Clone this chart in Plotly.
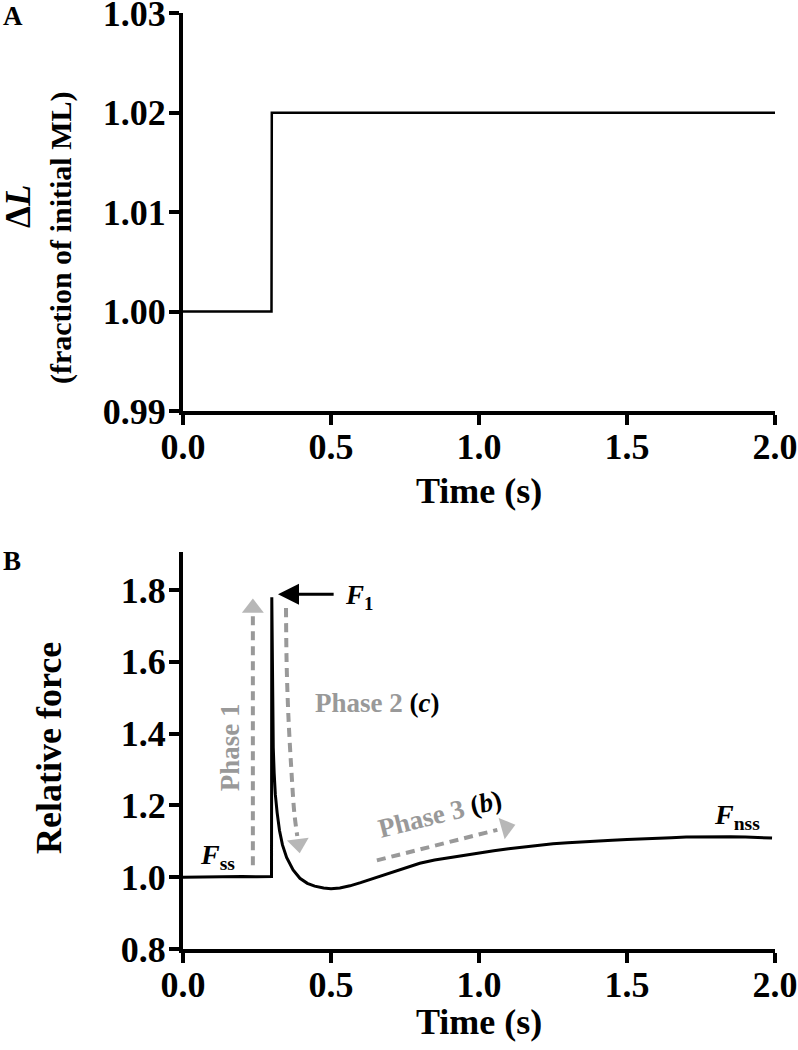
import plotly.graph_objects as go

W, H = 798, 1050
FONT = "Liberation Serif"
GRAY = "#999999"

# ---------------- data ----------------
# Panel A: length step
len_time = [0.0, 0.299, 0.300, 2.0]
len_value = [1.000, 1.000, 1.020, 1.020]

# Panel B: relative force trace
force_time = [0.0, 0.05, 0.10, 0.15, 0.20, 0.25, 0.299, 0.300, 0.302, 0.305,
              0.308, 0.312, 0.318, 0.326, 0.336, 0.350, 0.372, 0.395, 0.420,
              0.445, 0.475, 0.500, 0.530, 0.564, 0.600, 0.640, 0.680, 0.720,
              0.760, 0.800, 0.850, 0.900, 0.950, 1.000, 1.050, 1.100, 1.150,
              1.200, 1.250, 1.300, 1.350, 1.400, 1.450, 1.500, 1.550, 1.600,
              1.650, 1.700, 1.750, 1.800, 1.850, 1.900, 1.950, 1.990]
force_value = [1.000, 1.001, 1.002, 1.001, 1.002, 1.001, 1.002, 1.780, 1.500, 1.360,
               1.290, 1.230, 1.180, 1.130, 1.090, 1.055, 1.020, 0.997, 0.983,
               0.975, 0.970, 0.968, 0.970, 0.976, 0.985, 0.996, 1.008, 1.019,
               1.030, 1.039, 1.048, 1.055, 1.062, 1.068, 1.074, 1.079, 1.084,
               1.089, 1.093, 1.096, 1.099, 1.101, 1.103, 1.105, 1.106, 1.108,
               1.110, 1.112, 1.113, 1.114, 1.113, 1.112, 1.110, 1.109]

x_ticks = [0.0, 0.5, 1.0, 1.5, 2.0]
x_ticktext = ["0.0", "0.5", "1.0", "1.5", "2.0"]
ya_ticks = [0.99, 1.00, 1.01, 1.02, 1.03]
ya_ticktext = ["0.99", "1.00", "1.01", "1.02", "1.03"]
yb_ticks = [0.8, 1.0, 1.2, 1.4, 1.6, 1.8]
yb_ticktext = ["0.8", "1.0", "1.2", "1.4", "1.6", "1.8"]

# Phase arrows (dashed paths, arrowhead position)
phase1_t = [0.236, 0.236]
phase1_v = [1.033, 1.742]
phase1_head_t = [0.236, 0.236]
phase1_head_v = [1.70, 1.750]

phase2_t = [0.348, 0.350, 0.356, 0.366, 0.376, 0.386]
phase2_v = [1.750, 1.600, 1.450, 1.300, 1.180, 1.115]
phase2_head_t = [0.384, 0.390]
phase2_head_v = [1.130, 1.093]

phase3_t = [0.655, 1.062]
phase3_v = [1.047, 1.132]
phase3_head_t = [1.062, 1.092]
phase3_head_v = [1.132, 1.139]

# ---------------- helpers ----------------
def px(x):
    return x / W

def py(y):
    return 1 - y / H

fig = go.Figure()

fig.add_trace(go.Scatter(x=len_time, y=len_value, mode="lines",
                         line=dict(color="black", width=2.5),
                         xaxis="x", yaxis="y", showlegend=False))

fig.add_trace(go.Scatter(x=force_time, y=force_value, mode="lines",
                         line=dict(color="black", width=3),
                         xaxis="x2", yaxis="y2", showlegend=False))

for (tt, vv, ht, hv) in [(phase1_t, phase1_v, phase1_head_t, phase1_head_v),
                         (phase2_t, phase2_v, phase2_head_t, phase2_head_v),
                         (phase3_t, phase3_v, phase3_head_t, phase3_head_v)]:
    fig.add_trace(go.Scatter(x=tt, y=vv, mode="lines",
                             line=dict(color=GRAY, width=4, dash="9px,6px", shape="spline"),
                             xaxis="x2", yaxis="y2", showlegend=False))
    fig.add_trace(go.Scatter(x=ht, y=hv, mode="markers",
                             marker=dict(symbol="triangle-up", size=[0, 19], color=GRAY,
                                         angleref="previous", line=dict(width=0)),
                             xaxis="x2", yaxis="y2", showlegend=False))

tickfont = dict(family=FONT, size=36, color="black", weight="bold")
common_axis = dict(showline=True, linewidth=4, linecolor="black", ticks="outside",
                   ticklen=10, tickwidth=4, tickcolor="black", showgrid=False,
                   zeroline=False, tickfont=tickfont, fixedrange=True,
                   automargin=False, ticklabeloverflow="allow")

xdom = [px(183), px(775)]
fig.update_layout(
    width=W, height=H, margin=dict(l=0, r=0, t=0, b=0, autoexpand=False),
    paper_bgcolor="white", plot_bgcolor="white",
    xaxis=dict(domain=xdom, range=[0, 2], tickvals=x_ticks, ticktext=x_ticktext,
               anchor="y", ticklabelstandoff=-9, **common_axis),
    yaxis=dict(domain=[py(411), py(13)], range=[0.99, 1.03003], tickvals=ya_ticks,
               ticktext=ya_ticktext, anchor="x", ticklabelstandoff=-4, **common_axis),
    xaxis2=dict(domain=xdom, range=[0, 2], tickvals=x_ticks, ticktext=x_ticktext,
                anchor="y2", ticklabelstandoff=-9, **common_axis),
    yaxis2=dict(domain=[py(949), py(552)], range=[0.8, 1.906], tickvals=yb_ticks,
                ticktext=yb_ticktext, anchor="x2", ticklabelstandoff=-4, **common_axis),
)

ann = []
def txt(text, x, y, size, xref="paper", yref="paper", angle=0, color="black",
        xanchor="center", yanchor="middle"):
    ann.append(dict(text=text, x=x, y=y, xref=xref, yref=yref, showarrow=False,
                    textangle=angle, xanchor=xanchor, yanchor=yanchor,
                    font=dict(family=FONT, size=size, color=color)))

txt("<b>A</b>", px(13), py(16), 27)
txt("<b>B</b>", px(12), py(561), 27)

txt("<b>Δ<i>L</i></b>", px(18), py(207), 35, angle=-90)
txt("<b>(fraction of initial ML)</b>", px(61), py(238), 30, angle=-90)
txt("<b>Time (s)</b>", px(479), py(491), 36)
txt("<b>Relative force</b>", px(49), py(748), 36, angle=-90)
txt("<b>Time (s)</b>", px(479), py(1022), 36)

txt("<b>Phase 1</b>", 0.159, 1.362, 27, xref="x2", yref="y2", angle=-90, color=GRAY)
txt("<b><span style='color:#999999'>Phase 2 </span>(<i>c</i>)</b>", 0.439, 1.485, 27,
    xref="x2", yref="y2", xanchor="left")
txt("<b><span style='color:#999999'>Phase 3 </span>(<i>b</i>)</b>", 0.868, 1.175, 27,
    xref="x2", yref="y2", angle=-14)
txt("<b><i>F</i><sub>ss</sub></b>", 0.115, 1.058, 28, xref="x2", yref="y2")
txt("<b><i>F</i><sub>nss</sub></b>", 1.872, 1.170, 28, xref="x2", yref="y2")
txt("<b><i>F</i><sub>1</sub></b>", 0.541, 1.780, 27, xref="x2", yref="y2", xanchor="left")

ann.append(dict(x=0.321, y=1.788, ax=0.514, ay=1.788, xref="x2", yref="y2",
                axref="x2", ayref="y2", text="", showarrow=True, arrowhead=2,
                arrowsize=1.4, arrowwidth=3, arrowcolor="black", standoff=0))

fig.update_layout(annotations=ann)
fig.write_html("out.html", config={"displayModeBar": False},
               post_script="document.body.style.margin='0';document.body.style.overflow='hidden';")
